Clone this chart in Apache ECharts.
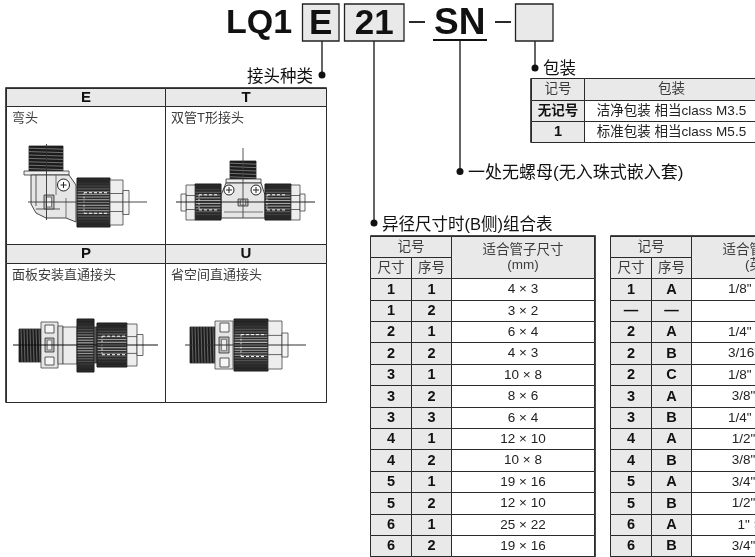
<!DOCTYPE html>
<html>
<head>
<meta charset="utf-8">
<style>html,body{margin:0;background:#fff}#main{width:755px;height:557px}</style>
<script src="https://cdn.jsdelivr.net/npm/echarts@6/dist/echarts.min.js"></script>
</head>
<body>
<div id="main"></div>
<script>
// tables content
var sizeA = ['1','1','2','2','3','3','3','4','4','5','5','6','6']
var seqA = ['1','2','1','2','1','2','3','1','2','1','2','1','2']
var tubeA = ['4 × 3','3 × 2','6 × 4','4 × 3','10 × 8','8 × 6','6 × 4','12 × 10','10 × 8','19 × 16','12 × 10','25 × 22','19 × 16']
var sizeB = ['1','—','2','2','2','3','3','4','4','5','5','6','6']
var seqB = ['A','—','A','B','C','A','B','A','B','A','B','A','B']
var tubeB = ['1/8" × 3/32"','','1/4" × 5/32"','3/16" × 1/8"','1/8" × 3/32"','3/8" × 1/4"','1/4" × 5/32"','1/2" × 3/8"','3/8" × 1/4"','3/4" × 5/8"','1/2" × 3/8"','1" × 7/8"','3/4" × 5/8"']
var packCodes = ['无记号','1']
var packNames = ['洁净包装 相当class M3.5','标准包装 相当class M5.5']
var typeCodes = ['E','T','P','U']
var typeNames = ['弯头','双管T形接头','面板安装直通接头','省空间直通接头']

var cjk = '"Liberation Sans","Noto Sans CJK SC",sans-serif'
var grey = '#e8e9e8'
var ink = '#111'
var soft = '#3c3c3c'
var line = '#2a2a2a'

function headLabel(size) { return { fontSize: size || 13.5, fontFamily: cjk, color: soft, lineHeight: 15 } }
function boldLabel(size) { return { fontSize: size || 14.5, fontFamily: cjk, color: ink, fontWeight: 'bold', lineHeight: 15 } }
function bodyLabel(size) { return { fontSize: size || 13.5, fontFamily: cjk, color: '#222' } }

function cell(x, y, value, label, bg) {
    return {
        coord: [x, y], value: value, mergeCells: Array.isArray(x) || Array.isArray(y),
        label: label, itemStyle: { color: bg || '#fff', borderColor: line, borderWidth: 1 }
    }
}

function makeMatrix(left, top, cols, rows, cells) {
    var sum = function (a) { return a.reduce(function (s, v) { return s + v }, 0) }
    return {
        left: left, top: top, width: sum(cols), height: sum(rows),
        x: { show: false, data: cols.map(function (c, i) { return { value: 'c' + i, size: c } }) },
        y: { show: false, data: rows.map(function (r, i) { return { value: 'r' + i, size: r } }) },
        body: { data: cells, itemStyle: { borderColor: line, borderWidth: 1, color: '#fff' }, label: { show: true } },
        backgroundStyle: { borderColor: '#111', borderWidth: 1.5, color: 'transparent' }
    }
}

function sizeTable(left, width, tubeHead, a, b, t) {
    var rows = [21, 21.5].concat(a.map(function () { return 21.4 }))
    var cells = [
        cell([0, 1], 0, '记号', headLabel(), grey),
        cell(2, [0, 1], tubeHead, headLabel(), grey),
        cell(0, 1, '尺寸', headLabel(), grey),
        cell(1, 1, '序号', headLabel(), grey)
    ]
    a.forEach(function (v, i) {
        cells.push(cell(0, i + 2, v, boldLabel(), grey))
        cells.push(cell(1, i + 2, b[i], boldLabel(), grey))
        cells.push(cell(2, i + 2, t[i], bodyLabel(), '#fff'))
    })
    return makeMatrix(left, 236, [40.5, 40.5, width], rows, cells)
}

function packTable() {
    var cells = [cell(0, 0, '记号', headLabel(), grey), cell(1, 0, '包装', headLabel(), grey)]
    packCodes.forEach(function (c, i) {
        cells.push(cell(0, i + 1, c, boldLabel(c === '1' ? 14.5 : 13.5), grey))
        cells.push(cell(1, i + 1, packNames[i], bodyLabel(13.5), '#fff'))
    })
    return makeMatrix(531, 78.5, [53, 174], [21.5, 21, 21], cells)
}

function typeTable() {
    var cells = []
    typeCodes.forEach(function (c, i) {
        var col = i % 2, row = i < 2 ? 0 : 2
        var lab = boldLabel(15)
        lab.lineHeight = 14
        cells.push(cell(col, row, c, lab, grey))
        cells.push(cell(col, row + 1, '', bodyLabel(), '#fff'))
    })
    return makeMatrix(6, 88, [159.5, 160.5], [18.5, 138, 19, 138.5], cells)
}

// ---------- drawing helpers for the fitting sketches ----------
var g = []
function rect(x, y, w, h, fill, stroke, lw) {
    g.push({ type: 'rect', silent: true, shape: { x: x, y: y, width: w, height: h },
        style: { fill: fill || 'none', stroke: stroke || null, lineWidth: lw || 0.8 } })
}
function seg(x1, y1, x2, y2, c, lw, dash) {
    g.push({ type: 'line', silent: true, shape: { x1: x1, y1: y1, x2: x2, y2: y2 },
        style: { stroke: c || '#222', lineWidth: lw || 0.8, lineDash: dash || null } })
}
function poly(points, fill, stroke) {
    g.push({ type: 'polygon', silent: true, shape: { points: points },
        style: { fill: fill, stroke: stroke || '#333', lineWidth: 0.9 } })
}
function dot(x, y, r, fill, stroke, lw) {
    g.push({ type: 'circle', silent: true, shape: { cx: x, cy: y, r: r },
        style: { fill: fill, stroke: stroke || null, lineWidth: lw || 0.8 } })
}
function text(x, y, t, size, weight, align, color) {
    g.push({ type: 'text', silent: true, x: x, y: y, style: {
        text: t, fontSize: size, fontWeight: weight || 'normal', fontFamily: cjk,
        fill: color || ink, align: align || 'left', verticalAlign: 'middle' } })
}
// horizontal threads (ridges along the y direction)
function threadH(x, y, w, h) {
    rect(x, y, w, h, '#1c1c1c', '#222')
    for (var i = y + 2.2; i < y + h - 1; i += 3.4) seg(x, i, x + w, i + 1, '#999', 0.7)
}
function threadV(x, y, w, h) {
    rect(x, y, w, h, '#1c1c1c', '#222')
    for (var i = x + 2; i < x + w - 1; i += 3) seg(i, y, i + 1, y + h, '#888', 0.7)
}
// knurled union nut with the hidden sleeve dashed in white
function nut(x, y, w, h, dashFrom, dashTo) {
    rect(x, y, w, h, '#2a2a2a', '#1a1a1a', 1)
    var steps = Math.floor(h / 2.6)
    for (var i = 1; i < steps; i++) {
        var t = i / steps
        var s = Math.sin(Math.PI * t)
        var shade = Math.round(30 + 150 * s * s)
        seg(x + 0.5, y + t * h, x + w - 0.5, y + t * h, 'rgb(' + shade + ',' + shade + ',' + shade + ')', 1.1)
    }
    var top = y + h * 0.3, bot = y + h * 0.72
    if (dashTo > dashFrom) {
        seg(x + dashFrom, top, x + dashTo, top, '#fff', 1, [3, 2])
        seg(x + dashFrom, bot, x + dashTo, bot, '#fff', 1, [3, 2])
        seg(x + dashFrom, top, x + dashFrom, bot, '#eee', 0.8, [2, 2])
    }
}
function hexEnd(x, y, w, h, tipW, tipH, dir) {
    var x0 = dir > 0 ? x : x - w
    rect(x0, y, w, h, '#eeeeee', '#444')
    seg(x0, y + h * 0.3, x0 + w, y + h * 0.3, '#444')
    seg(x0, y + h * 0.7, x0 + w, y + h * 0.7, '#444')
    var tx = dir > 0 ? x + w : x - w - tipW
    rect(tx, y + (h - tipH) / 2, tipW, tipH, '#f4f4f4', '#444')
}
function port(x, y, r) {
    dot(x, y, r, '#fff', '#222', 1)
    seg(x - 3, y, x + 3, y, '#222', 1)
    seg(x, y - 3, x, y + 3, '#222', 1)
}
function smcTag(x, y, w, h) {
    rect(x, y, w, h, '#b5b5b5', '#333')
    rect(x + w * 0.25, y + h * 0.15, w * 0.5, h * 0.7, '#eee', '#444', 0.6)
}

function drawElbow() {
    threadH(29, 146, 34, 25)
    rect(24, 171, 45, 4, '#eee', '#333')
    poly([[31, 175], [69, 175], [76, 185], [76, 222], [66, 218], [46, 218], [36, 213], [31, 204]], '#e6e6e6')
    seg(36, 175, 36, 206, '#333'); seg(36, 209, 60, 209, '#333'); seg(56, 175, 56, 195, '#555')
    seg(66, 198, 66, 218, '#555')
    port(63.5, 185, 6)
    smcTag(44, 195, 10, 14)
    nut(77, 178, 33, 49, 7, 31)
    hexEnd(110, 180, 13, 45, 6, 24, 1)
    seg(46.5, 144, 46.5, 220, '#333', 0.9)
    seg(28, 202, 147, 202, '#333', 0.9)
}
function drawTee() {
    threadH(230, 161, 26, 18)
    rect(226, 179, 35, 4, '#eee', '#333')
    poly([[226, 183], [261, 183], [265, 195], [265, 218], [221, 218], [221, 195]], '#e6e6e6')
    seg(224, 212, 263, 212, '#555')
    port(229, 190, 5)
    port(256, 190, 5)
    smcTag(238, 199, 10, 7)
    nut(195, 184, 26, 36, 4, 24)
    nut(265, 184, 26, 36, 2, 22)
    hexEnd(195, 185, 9, 35, 5, 17, -1)
    hexEnd(291, 185, 9, 35, 5, 17, 1)
    seg(243, 148, 243, 218, '#444', 0.9)
    seg(176, 202, 315, 202, '#222', 1)
}
function drawPanel() {
    threadV(19, 329, 22, 33)
    rect(41, 322, 17, 46, '#e6e6e6', '#444')
    rect(45, 325, 9, 8, '#f6f6f6', '#333')
    rect(45, 357, 9, 8, '#f6f6f6', '#333')
    smcTag(45, 338, 9, 14)
    rect(58, 326, 5, 38, '#ddd', '#444')
    rect(63, 327, 14, 37, '#ececec', '#444')
    nut(77, 319, 17, 53, 20, 20)
    rect(94, 327, 3, 36, '#555', '#333')
    nut(97, 323, 30, 44, 5, 29)
    hexEnd(127, 324, 10, 42, 6, 21, 1)
    seg(13, 345, 158, 345, '#111', 1)
}
function drawSaver() {
    threadV(190, 327, 25, 36)
    rect(215, 321, 18, 48, '#e6e6e6', '#444')
    rect(220, 323, 9, 9, '#f6f6f6', '#333')
    rect(220, 358, 9, 9, '#f6f6f6', '#333')
    smcTag(219, 337, 10, 16)
    nut(234, 319, 34, 52, 7, 32)
    hexEnd(268, 321, 14, 48, 6, 24, 1)
    seg(185, 345, 306, 345, '#333', 1)
}

// ---------- part number header ----------
function drawHeader() {
    // connector leaders
    seg(322, 41, 322, 75, ink, 1.3); dot(322, 75, 3.5, ink)
    seg(374, 41, 374, 223, ink, 1.3); dot(374, 223, 3.5, ink)
    seg(460, 41, 460, 171, ink, 1.3); dot(460, 171.5, 3.5, ink)
    seg(535, 41, 535, 68, ink, 1.3); dot(535, 68, 3.5, ink)

    text(226, 24, 'LQ1', 34, 'bold')
    rect(302.5, 4, 36.5, 37, grey, '#222', 1.3)
    text(320.75, 24, 'E', 35, 'bold', 'center')
    rect(344.5, 4, 59.5, 37, grey, '#222', 1.3)
    text(374.25, 24, '21', 35, 'bold', 'center')
    seg(409, 22, 425, 22, ink, 1.8)
    text(434, 24, 'SN', 37, 'bold')
    seg(433, 40, 487, 40, ink, 1.8)
    seg(495, 22, 511, 22, ink, 1.8)
    rect(515.5, 4, 37.5, 37, grey, '#222', 1.3)

    text(313, 77, '接头种类', 16.5, 'normal', 'right')
    text(543, 69.5, '包装', 16.5)
    text(468, 173, '一处无螺母(无入珠式嵌入套)', 17)
    text(382, 225, '异径尺寸时(B侧)组合表', 16.5)

    // captions inside the fitting cells
    text(12, 118, typeNames[0], 13, 'normal', 'left', soft)
    text(171, 118, typeNames[1], 13, 'normal', 'left', soft)
    text(12, 275, typeNames[2], 13, 'normal', 'left', soft)
    text(171, 275, typeNames[3], 13, 'normal', 'left', soft)
}

drawElbow(); drawTee(); drawPanel(); drawSaver(); drawHeader()

var chart = echarts.init(document.getElementById('main'))
chart.setOption({
    animation: false,
    backgroundColor: '#fff',
    matrix: [
        typeTable(),
        packTable(),
        sizeTable(370.5, 143, '适合管子尺寸\n(mm)', sizeA, seqA, tubeA),
        sizeTable(610.5, 143, '适合管子尺寸\n(英寸)', sizeB, seqB, tubeB)
    ],
    graphic: { elements: g.map(function (el) { el.z = 100; return el }) }
})
</script>
</body>
</html>
